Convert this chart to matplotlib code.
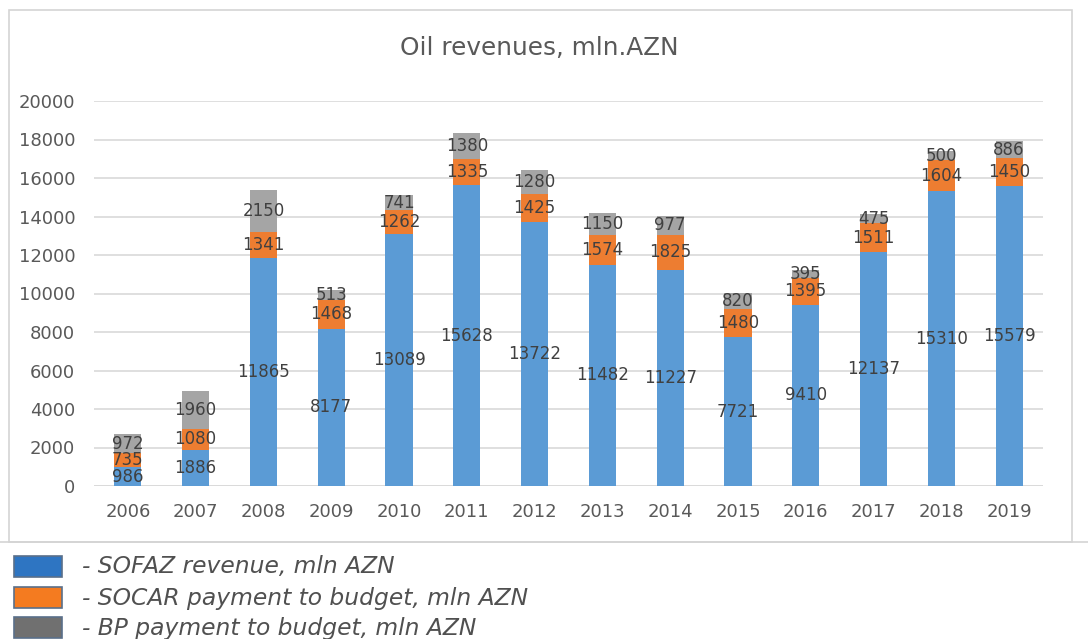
import matplotlib
matplotlib.use("Agg")
import matplotlib.pyplot as plt
from matplotlib.patches import Rectangle
import numpy as np

years = ["2006", "2007", "2008", "2009", "2010", "2011", "2012",
         "2013", "2014", "2015", "2016", "2017", "2018", "2019"]
sofaz = [986, 1886, 11865, 8177, 13089, 15628, 13722,
         11482, 11227, 7721, 9410, 12137, 15310, 15579]
socar = [735, 1080, 1341, 1468, 1262, 1335, 1425,
         1574, 1825, 1480, 1395, 1511, 1604, 1450]
bp = [972, 1960, 2150, 513, 741, 1380, 1280,
      1150, 977, 820, 395, 475, 500, 886]

legend_labels = ["- SOFAZ revenue, mln AZN",
                 "- SOCAR payment to budget, mln AZN",
                 "- BP payment to budget, mln AZN"]

W, H = 1088, 639
fig = plt.figure(figsize=(W / 100, H / 100), dpi=100)

def fx(px):
    return px / W

def fy(py):
    return 1 - py / H

# chart frame
fig.patches.append(Rectangle((fx(9), fy(542)), fx(1072) - fx(9), fy(10) - fy(542),
                             transform=fig.transFigure, fill=False,
                             edgecolor="#d4d4d4", linewidth=1.2))
fig.add_artist(plt.Line2D([0, 1], [fy(542), fy(542)], transform=fig.transFigure,
                          color="#d4d4d4", linewidth=1.2))

ax = fig.add_axes([fx(94), fy(486), fx(1043) - fx(94), fy(101) - fy(486)])
x = np.arange(len(years))
w = 0.4
blue, orange, grey = "#5b9bd5", "#ed7d31", "#a5a5a5"

b1 = ax.bar(x, sofaz, w, color=blue, zorder=2)
b2 = ax.bar(x, socar, w, bottom=sofaz, color=orange, zorder=2)
bottom3 = np.array(sofaz) + np.array(socar)
b3 = ax.bar(x, bp, w, bottom=bottom3, color=grey, zorder=2)

for bars in (b1, b2, b3):
    ax.bar_label(bars, label_type="center", fontsize=12, color="#404040")

ax.set_xlim(-0.5, len(years) - 0.5)
ax.set_ylim(0, 20000)
ax.set_yticks(np.arange(0, 20001, 2000))
ax.set_xticks(x)
ax.set_xticklabels(years)
ax.tick_params(axis="both", length=0, labelsize=13, colors="#595959")
ax.tick_params(axis="x", pad=12)
ax.tick_params(axis="y", pad=13.5)
ax.grid(axis="y", color="#d9d9d9", linewidth=1.2, zorder=0)
for s in ax.spines.values():
    s.set_visible(False)
ax.axhline(0, color="#d9d9d9", linewidth=1.2, zorder=1)

fig.text(fx(539), fy(48), "Oil revenues, mln.AZN", ha="center", va="center",
         fontsize=17.8, color="#595959")

# legend below the frame
leg_colors = ["#2e75c2", "#f47b20", "#707070"]
leg_top = [556, 587, 617]
for c, t, lab in zip(leg_colors, leg_top, legend_labels):
    fig.patches.append(Rectangle((fx(14), fy(t + 21)), fx(62) - fx(14), fy(t) - fy(t + 21),
                                 transform=fig.transFigure, facecolor=c,
                                 edgecolor="#5a6f8a", linewidth=1.2))
    fig.text(fx(82), fy(t + 11), lab, ha="left", va="center", fontsize=16.8,
             style="italic", family="DejaVu Sans", color="#505050")

fig.savefig("out.png", dpi=100, facecolor="white")
